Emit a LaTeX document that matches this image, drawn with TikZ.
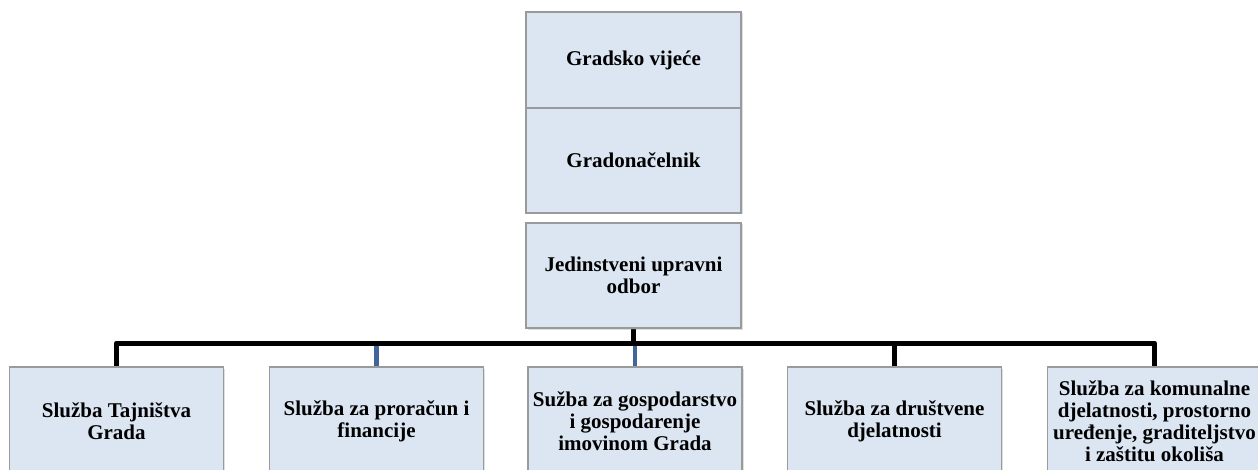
\documentclass[tikz,border=0pt]{standalone}
\usepackage{fontspec}
\setmainfont{Liberation Serif}
\usepackage{xcolor}
\usetikzlibrary{positioning, shadows, backgrounds}
\definecolor{boxfill}{HTML}{DCE6F2}
\definecolor{boxline}{HTML}{9A9A9A}
\definecolor{dropblue}{HTML}{41679A}

\begin{document}
\begin{tikzpicture}[
  x=1pt, y=-1pt,
  unit/.style={draw=boxline, line width=1.2pt, fill=boxfill, minimum width=214pt,
    align=center, inner sep=2pt, font=\fontsize{21}{22}\selectfont\bfseries,
    drop shadow={opacity=0.25, shadow xshift=1.5pt, shadow yshift=-1.5pt}},
  topunit/.style={unit, minimum width=215pt},
  busline/.style={line width=5pt, black, line join=round},
  dropline/.style={line width=4.5pt, dropblue},
]
\useasboundingbox (0,0) rectangle (1258,470);

% upper chain
\node[topunit, minimum height=96pt] (vijece) at (633.5,60) {Gradsko vijeće};
\node[topunit, minimum height=105pt] (nacelnik) at (633.5,160.5) {Gradonačelnik};
\node[topunit, minimum height=105pt] (odbor) at (633.5,275.5) {Jedinstveni upravni\\odbor};

% services
\node[unit, minimum height=108pt] (tajnistvo) at (116.5,421) {Služba Tajništva\\Grada};
\node[unit, minimum height=108pt] (proracun) at (376.5,421) {Služba za proračun i\\financije};
\node[unit, minimum height=108pt] (gospodarstvo) at (635,421) {Sužba za gospodarstvo\\i gospodarenje\\imovinom Grada};
\node[unit, minimum height=108pt] (drustvene) at (894.5,421) {Služba za društvene\\djelatnosti};
\node[unit, minimum height=108pt] (komunalne) at (1154.5,421) {Služba za komunalne\\djelatnosti, prostorno\\uređenje, graditeljstvo\\i zaštitu okoliša};

\coordinate (bus) at (633,343);

% connectors
\begin{scope}[on background layer]
\draw[dropline] (proracun.north) -- (proracun.north |- bus);
\draw[dropline] (gospodarstvo.north) -- (gospodarstvo.north |- bus);
\draw[busline] (tajnistvo.north) |- (bus) -| (komunalne.north);
\draw[busline] (drustvene.north) -- (drustvene.north |- bus);
\draw[busline] (odbor.south) -- (odbor.south |- bus);
\end{scope}
\end{tikzpicture}
\end{document}
